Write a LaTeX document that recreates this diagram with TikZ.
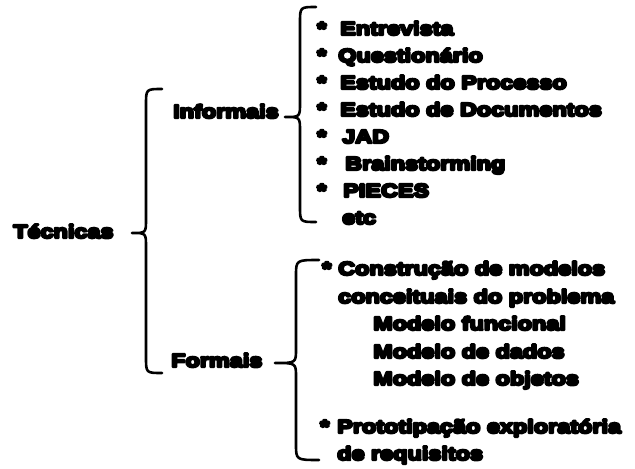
\documentclass[tikz,border=0pt]{standalone}
\usepackage{fontspec}
\setmainfont{Liberation Sans}
\newfontfamily\heavy{Liberation Sans Bold}[FakeBold=13,FakeStretch=1.25]
\usetikzlibrary{positioning}
% #1 stem x, #2 top y, #3 tip x, #4 tip y, #5 bottom y, #6 end x
\def\curly#1#2#3#4#5#6{
  \draw[curlyline] (#6,#2) .. controls (#1,#2) .. (#1,{#2+16}) -- (#1,{#4-14}) .. controls (#1,#4) .. (#3,#4) .. controls (#1,#4) .. (#1,{#4+14}) -- (#1,{#5-16}) .. controls (#1,#5) .. (#6,#5);
}

\begin{document}
\begin{tikzpicture}[x=0.03cm,y=-0.03cm, lbl/.style={font=\fontsize{16}{19}\heavy,anchor=base west,inner sep=0pt,line join=round}, curlyline/.style={line width=2.2pt,line cap=round,line join=round}]
\useasboundingbox (0,0) rectangle (635,468);

% left column
\node[lbl] (tecnicas) at (13,238) {Técnicas};
\node[lbl] (informais) at (173,118) {Informais};
\node[lbl] (formais) at (171,367) {Formais};

% the three braces
\curly{146}{89}{132}{233}{373}{162}
\curly{300}{7}{285}{117}{222}{316}
\curly{296}{260}{275}{363}{460}{319}

% informal list
\foreach \txt/\dx [count=\i] in {Entrevista/0,Questionário/-2,Estudo do Processo/0,Estudo de Documentos/0,JAD/2,Brainstorming/5,PIECES/3}{
  \node[lbl] (star\i) at (317,{35+27*(\i-1)}) {*};
  \node[lbl] (inf\i) at ({340+\dx},{35+27*(\i-1)}) {\txt};
}
\node[lbl] (inf8) at (342,224) {etc};

% formal list
\node[lbl] (fstar1) at (322,275) {*};
\node[lbl] (frm1) at (338,275) {Construção de modelos};
\node[lbl] (frm2) at (338,303) {conceituais do problema};
\node[lbl] (frm3) at (373,330) {Modelo funcional};
\node[lbl] (frm4) at (373,358) {Modelo de dados};
\node[lbl] (frm5) at (373,385) {Modelo de objetos};
\node[lbl] (fstar2) at (320,433) {*};
\node[lbl] (frm6) at (337,433) {Prototipação exploratória};
\node[lbl] (frm7) at (337,460) {de requisitos};

\end{tikzpicture}
\end{document}
